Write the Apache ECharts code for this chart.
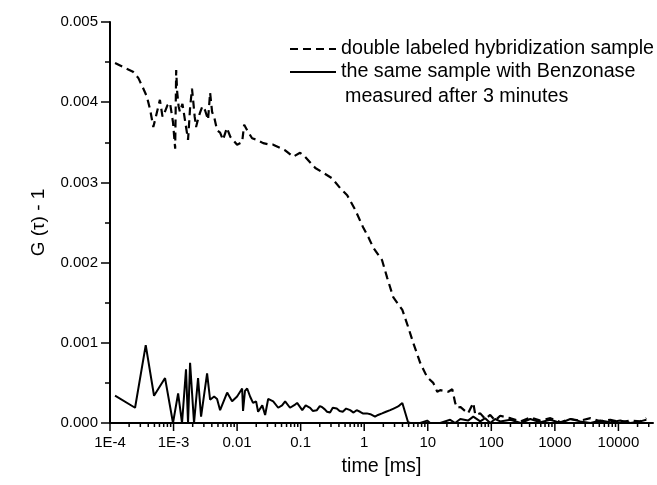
<!DOCTYPE html>
<html lang="en">
	<head>
		<meta charset="utf-8" />
		<title>FCS correlation</title>
		<style>
			html, body { margin: 0; padding: 0; background: #fff; }
		</style>
	</head>
	<body>
		<div id="main" style="width: 657px; height: 485px;"></div>

		<script src="https://cdn.jsdelivr.net/npm/echarts@6/dist/echarts.min.js"></script>
		<script type="text/javascript">
			// double labeled hybridization sample (dashed)
			const timeA = [1.2e-4, 1.7e-4, 2.3e-4, 2.8e-4, 3.3e-4, 3.8e-4, 4.3e-4, 4.8e-4, 5.2e-4, 5.5e-4, 6.1e-4, 6.7e-4, 7.3e-4, 8.0e-4, 8.8e-4, 9.8e-4, 1.06e-3, 1.1e-3, 1.14e-3, 1.2e-3, 1.26e-3, 1.38e-3, 1.51e-3, 1.69e-3, 1.82e-3, 1.95e-3, 2.03e-3, 2.15e-3, 2.26e-3, 2.45e-3, 2.61e-3, 2.85e-3, 3.13e-3, 3.49e-3, 3.76e-3, 4.04e-3, 4.4e-3, 4.84e-3, 5.4e-3, 6.0e-3, 6.9e-3, 7.8e-3, 0.01, 0.012, 0.0129, 0.0144, 0.0172, 0.0207, 0.0257, 0.033, 0.037, 0.0475, 0.057, 0.076, 0.098, 0.117, 0.17, 0.226, 0.313, 0.417, 0.54, 0.72, 0.96, 1.16, 1.38, 1.91, 2.3, 2.86, 3.98, 4.9, 5.9, 7.6, 9.8, 12.2, 14.1, 15.7, 21, 24.3, 27, 29, 32.5, 43, 52, 56, 67, 80, 96, 115, 138, 200, 290, 410, 590, 850, 1230, 1750, 2510, 3630, 5200, 7450, 10700, 15500, 22000, 27500];
			const valueA = [4.49, 4.43, 4.38, 4.30, 4.18, 4.07, 3.90, 3.69, 3.80, 3.88, 4.03, 3.82, 3.88, 3.96, 3.99, 3.75, 3.42, 4.40, 4.13, 3.95, 3.88, 3.98, 3.78, 3.53, 3.93, 4.17, 4.03, 3.82, 3.69, 3.80, 3.87, 3.95, 3.90, 3.78, 4.12, 3.88, 3.80, 3.65, 3.62, 3.53, 3.68, 3.57, 3.47, 3.50, 3.72, 3.65, 3.55, 3.53, 3.49, 3.47, 3.47, 3.43, 3.40, 3.32, 3.37, 3.32, 3.18, 3.12, 3.05, 2.93, 2.84, 2.66, 2.44, 2.32, 2.19, 2.03, 1.81, 1.57, 1.41, 1.20, 1.00, 0.75, 0.57, 0.50, 0.39, 0.41, 0.39, 0.42, 0.25, 0.19, 0.20, 0.12, 0.25, 0.10, 0.12, 0.05, 0.10, 0.03, 0.09, 0.06, 0.02, 0.07, 0.03, 0.06, 0.01, 0.05, 0.03, 0.06, 0.02, 0.04, 0.01, 0.03, 0.02, 0.06].map(v => v / 1000);

			// the same sample with Benzonase (solid)
			const timeB = [1.2e-4, 2.48e-4, 3.65e-4, 4.93e-4, 7.35e-4, 9.8e-4, 1.18e-3, 1.36e-3, 1.57e-3, 1.69e-3, 1.82e-3, 2.1e-3, 2.43e-3, 2.71e-3, 3.37e-3, 3.76e-3, 4.35e-3, 4.84e-3, 5.4e-3, 6.97e-3, 8.34e-3, 0.01, 0.012, 0.0124, 0.0133, 0.0144, 0.016, 0.0178, 0.0199, 0.0214, 0.0249, 0.0276, 0.0308, 0.037, 0.0443, 0.051, 0.057, 0.068, 0.0818, 0.088, 0.106, 0.12, 0.141, 0.155, 0.18, 0.2, 0.216, 0.24, 0.26, 0.29, 0.32, 0.37, 0.41, 0.46, 0.52, 0.6, 0.68, 0.76, 0.86, 0.95, 1.1, 1.25, 1.48, 1.65, 1.91, 2.2, 2.56, 2.9, 3.3, 3.6, 3.98, 4.9, 5.3, 7.6, 9.8, 10.9, 15.7, 22.5, 27, 32.5, 43, 52, 67, 80, 96, 115, 138, 200, 290, 410, 590, 850, 1230, 1750, 2510, 3630, 5200, 7450, 10700, 15500, 22000, 27500];
			const valueB = [0.34, 0.19, 0.97, 0.34, 0.56, 0.0, 0.37, 0.0, 0.67, 0.0, 0.75, 0.0, 0.56, 0.08, 0.62, 0.29, 0.33, 0.30, 0.16, 0.38, 0.27, 0.33, 0.43, 0.15, 0.40, 0.43, 0.33, 0.25, 0.27, 0.14, 0.22, 0.10, 0.30, 0.27, 0.19, 0.22, 0.27, 0.19, 0.23, 0.25, 0.16, 0.22, 0.19, 0.15, 0.16, 0.21, 0.20, 0.17, 0.14, 0.13, 0.19, 0.18, 0.15, 0.14, 0.18, 0.16, 0.13, 0.16, 0.14, 0.12, 0.12, 0.11, 0.08, 0.10, 0.12, 0.14, 0.16, 0.18, 0.20, 0.22, 0.25, 0.01, 0.0, 0.0, 0.03, 0.0, 0.0, 0.04, 0.0, 0.05, 0.03, 0.08, 0.02, 0.06, 0.0, 0.05, 0.02, 0.04, 0.0, 0.05, 0.01, 0.04, 0.0, 0.05, 0.02, 0.0, 0.03, 0.01, 0.03, 0.0, 0.02, 0.04].map(v => v / 1000);

			const nameA = 'double labeled hybridization sample';
			const nameB = 'the same sample with Benzonase';
			const nameB2 = 'measured after 3 minutes';

			const xMin = 1e-4;
			const xMax = 35000;
			const yTicks = [0, 0.001, 0.002, 0.003, 0.004, 0.005];

			// log axis ticks at 1..9 x 10^n, drawn by hand so the minor ones sit at 2..9
			const xTicks = [];
			for (let d = -4; d <= 4; d++) {
				for (let k = 1; k <= 9; k++) {
					const t = k * Math.pow(10, d);
					if (t <= xMax) xTicks.push([t, 0, k === 1 ? 1 : 0]);
				}
			}

			const font = '"Liberation Sans", Arial, sans-serif';
			const chart = echarts.init(document.getElementById('main'));

			const option = {
				animation: false,
				backgroundColor: '#fff',
				textStyle: { fontFamily: font, color: '#000' },
				grid: { left: 110, right: 4, top: 22, bottom: 62 },
				legend: {
					data: [nameA, nameB],
					orient: 'vertical',
					left: 284,
					top: 34,
					itemWidth: 46,
					itemHeight: 12,
					itemGap: 3,
					selectedMode: false,
					itemStyle: { opacity: 0 },
					textStyle: { fontSize: 19.7, color: '#000', fontFamily: font }
				},
				graphic: [{
					type: 'text',
					left: 345,
					top: 87,
					style: { text: nameB2, fontSize: 19.7, fill: '#000', fontFamily: font }
				}],
				xAxis: {
					type: 'log',
					logBase: 10,
					min: xMin,
					max: xMax,
					name: 'time [ms]',
					nameLocation: 'middle',
					nameGap: 34,
					nameTextStyle: { fontSize: 19.7, color: '#000' },
					axisLine: { lineStyle: { color: '#000', width: 2 } },
					axisTick: { show: false },
					splitLine: { show: false },
					axisLabel: {
						fontSize: 15,
						color: '#000',
						margin: 12,
						showMaxLabel: false,
						formatter: v => {
							const e = Math.round(Math.log10(v));
							if (Math.abs(Math.log10(v) - e) > 1e-6) return '';
							return e <= -3 ? '1E' + e : String(Math.pow(10, e) >= 1 ? Math.pow(10, e) : Math.pow(10, e).toFixed(-e));
						}
					}
				},
				yAxis: {
					type: 'value',
					min: yTicks[0],
					max: yTicks[yTicks.length - 1],
					interval: 0.001,
					name: 'G (τ) - 1',
					nameLocation: 'middle',
					nameGap: 62,
					nameTextStyle: { fontSize: 19, color: '#000' },
					axisLine: { show: true, lineStyle: { color: '#000', width: 2 } },
					axisTick: { show: true, length: 9, lineStyle: { color: '#000', width: 1.5 } },
					minorTick: { show: true, splitNumber: 2, length: 5, lineStyle: { color: '#000', width: 1.5 } },
					splitLine: { show: false },
					axisLabel: { fontSize: 15, color: '#000', margin: 12, formatter: v => v.toFixed(3) }
				},
				series: [
					{
						name: nameA,
						type: 'line',
						data: timeA.map((t, i) => [t, valueA[i]]),
						symbol: 'none',
						showSymbol: false,
						color: '#000',
						lineStyle: { color: '#000', width: 2.2, type: [8, 5] }
					},
					{
						name: nameB,
						type: 'line',
						data: timeB.map((t, i) => [t, valueB[i]]),
						symbol: 'none',
						showSymbol: false,
						color: '#000',
						lineStyle: { color: '#000', width: 2 }
					},
					{
						type: 'custom',
						silent: true,
						clip: false,
						data: xTicks,
						encode: { x: 0, y: 1 },
						renderItem: (params, api) => {
							const p = api.coord([api.value(0), 0]);
							const len = api.value(2) ? 8 : 4;
							return {
								type: 'line',
								shape: { x1: p[0], y1: p[1], x2: p[0], y2: p[1] + len },
								style: { stroke: '#000', lineWidth: 1.5 }
							};
						}
					}
				]
			};
			chart.setOption(option);
		</script>
	</body>
</html>
